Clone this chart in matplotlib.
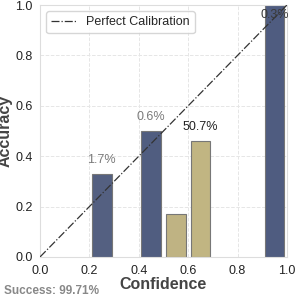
import numpy as np
import matplotlib
matplotlib.use("Agg")
import matplotlib.pyplot as plt
import seaborn as sns
from matplotlib.colors import LinearSegmentedColormap

sns.set_style("whitegrid", {"grid.linestyle": "--"})
plt.rcParams['font.family'] = ['Liberation Sans', 'DejaVu Sans']

# bin centres, accuracy per bin, share of samples per bin (%)
bin_centers = [0.25, 0.45, 0.55, 0.65, 0.95]
accuracy = [0.33, 0.50, 0.17, 0.46, 1.0]
share = [1.7, 0.6, 46.7, 50.7, 0.3]
show_label = [True, True, False, True, True]
success = 99.71

cmap = LinearSegmentedColormap.from_list("cal", ["#4e5b80", "#b3aa8a", "#c1b582"])
norm = plt.Normalize(0, max(share))

fig = plt.figure(figsize=(2.97, 2.98), dpi=100)
ax = fig.add_axes([0.135, 0.138, 0.831, 0.845])

colors = [cmap(norm(s)) for s in share]
ax.bar(bin_centers, accuracy, width=0.08, color=colors, edgecolor="#777777",
       linewidth=0.8, zorder=2)
ax.plot([0, 1], [0, 1], color="#333333", linestyle="-.", linewidth=0.9,
        label="Perfect Calibration", zorder=3)

for x, h, s, show in zip(bin_centers, accuracy, share, show_label):
    if not show:
        continue
    y = h + 0.03
    if s > 10:
        col = "#222222"
    elif y > 0.94:
        col = "#3a3a3a"
    else:
        col = "#7a7a7a"
    ax.text(x, min(y, 0.935), f"{s}%", ha="center", va="bottom",
            fontsize=9, color=col, zorder=4)

ax.set_xlim(0, 1)
ax.set_ylim(0, 1)
ax.set_xticks(np.arange(0, 1.01, 0.2))
ax.set_yticks(np.arange(0, 1.01, 0.2))
ax.tick_params(labelsize=9, pad=2, colors="#222222")
ax.set_xlabel("Confidence", fontsize=11.5, fontweight="bold", color="#444444", labelpad=0)
ax.set_ylabel("Accuracy", fontsize=11.5, fontweight="bold", color="#444444", labelpad=2)
for sp in ax.spines.values():
    sp.set_color("#dddddd")
ax.grid(True, linestyle="--", color="#e6e6e6", linewidth=0.7)
ax.legend(loc="upper left", fontsize=9, frameon=True)

fig.text(0.013, 0.015, f"Success: {success}%", fontsize=8.5, fontweight="bold",
         color="#888888")

fig.savefig("out.png", dpi=100)
